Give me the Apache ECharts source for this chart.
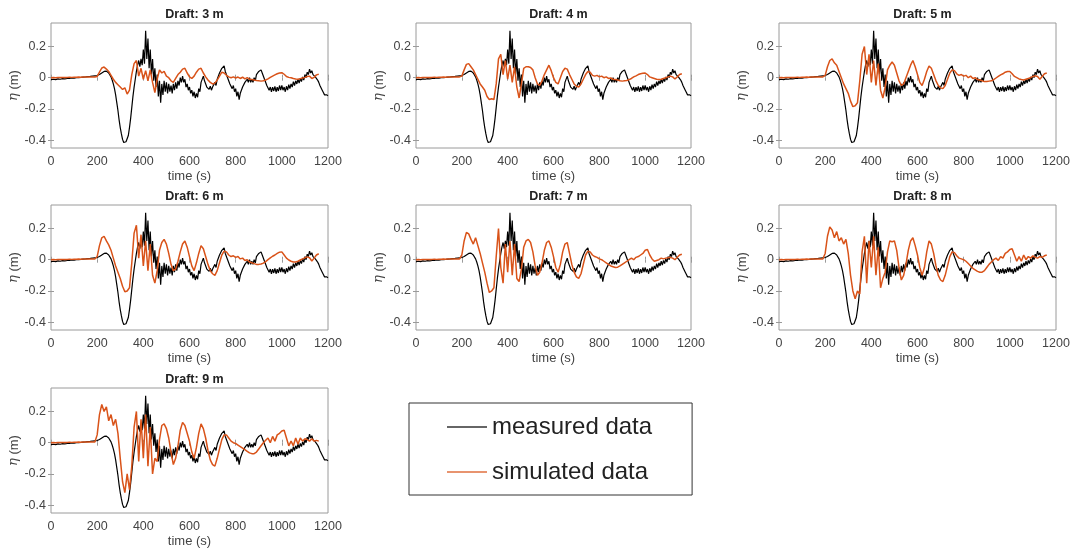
<!DOCTYPE html>
<html>
<head>
<meta charset="utf-8">
<title>Draft comparison</title>
<script src="https://cdn.jsdelivr.net/npm/echarts@6/dist/echarts.min.js"></script>
<style>
html, body { margin: 0; padding: 0; background: #fff; }
#chart { width: 1075px; height: 552px; }
</style>
</head>
<body>
<div id="chart"></div>
<script>
// panel titles
const drafts = ['Draft: 3 m', 'Draft: 4 m', 'Draft: 5 m', 'Draft: 6 m', 'Draft: 7 m', 'Draft: 8 m', 'Draft: 9 m'];

// x / y tick values
const xTicks = [0, 200, 400, 600, 800, 1000, 1200];
const yTicks = [-0.4, -0.2, 0, 0.2];

// measured surface elevation, sampled every 5 s from 0 to 1200 s (same in every panel)
const measuredStep = 5;
const measured = [
  -0.012,-0.018,-0.010,-0.020,-0.012,-0.017,-0.008,-0.016,-0.010,-0.019,
  -0.006,-0.014,-0.008,-0.016,-0.005,-0.013,-0.004,-0.012,-0.002,-0.010,
  -0.003,-0.009,0.000,-0.008,0.001,-0.006,0.002,-0.004,0.004,-0.003,
  0.005,-0.001,0.007,0.000,0.008,0.002,0.010,0.004,0.012,0.006,
  0.014,0.012,0.020,0.022,0.030,0.033,0.040,0.038,0.042,0.036,
  0.030,0.018,0.005,-0.015,-0.040,-0.070,-0.110,-0.160,-0.210,-0.270,
  -0.320,-0.360,-0.395,-0.415,-0.425,-0.410,-0.400,-0.370,-0.320,-0.260,
  -0.190,-0.120,-0.060,-0.010,0.040,0.080,0.110,0.070,0.120,0.080,
  0.180,0.090,0.300,0.120,0.250,0.060,0.180,0.020,0.120,-0.020,
  0.060,-0.060,0.020,-0.120,-0.020,-0.160,-0.040,-0.110,-0.020,-0.090,
  -0.030,-0.100,-0.040,-0.090,-0.050,-0.100,-0.040,-0.080,-0.030,-0.070,
  -0.020,-0.050,0.000,-0.030,0.010,-0.030,-0.010,-0.060,-0.040,-0.080,
  -0.060,-0.100,-0.080,-0.120,-0.090,-0.130,-0.100,-0.125,-0.070,-0.090,
  -0.030,-0.040,0.010,-0.020,-0.030,-0.060,-0.050,-0.075,-0.055,-0.080,
  -0.060,-0.070,-0.030,-0.050,-0.010,-0.020,0.030,0.020,0.060,0.050,
  0.075,0.040,0.030,0.000,-0.010,-0.040,-0.030,-0.070,-0.050,-0.090,
  -0.070,-0.120,-0.090,-0.140,-0.100,-0.110,-0.060,-0.070,-0.030,-0.040,
  -0.010,-0.030,0.000,-0.030,-0.010,-0.030,0.000,-0.020,0.020,0.010,
  0.040,0.030,0.050,0.030,0.020,-0.010,-0.010,-0.050,-0.040,-0.080,
  -0.060,-0.090,-0.060,-0.085,-0.055,-0.090,-0.060,-0.085,-0.050,-0.080,
  -0.050,-0.080,-0.060,-0.090,-0.055,-0.080,-0.045,-0.070,-0.040,-0.060,
  -0.025,-0.050,-0.020,-0.040,-0.010,-0.035,-0.005,-0.025,0.005,-0.015,
  0.020,0.000,0.035,0.020,0.055,0.030,0.045,0.020,0.030,0.005,
  0.010,-0.015,-0.030,-0.050,-0.060,-0.080,-0.095,-0.110,-0.120,-0.110,
  -0.115
];

// simulated data, sampled every 10 s from 0 to 1160 s
const simStep = 10;
const simLead = [0.000,0.001,0.000,0.001,0.002,0.001,0.002,0.002,0.003,0.002,
                 0.003,0.003,0.004,0.003,0.004,0.004,0.005,0.004,0.005,0.005];
const sim3 = simLead.concat([
  0.008,0.035,0.062,0.068,0.055,0.040,0.015,-0.010,-0.030,-0.045,
  -0.060,-0.075,-0.065,-0.105,-0.080,0.020,0.090,0.110,0.010,0.060,
  -0.010,0.045,-0.020,0.050,-0.030,-0.095,-0.010,0.050,0.030,0.040,
  0.010,0.000,-0.020,-0.030,-0.005,0.020,0.035,0.055,0.060,0.030,
  0.005,-0.005,0.010,0.035,0.055,0.060,0.030,0.005,-0.015,-0.030,
  -0.040,-0.035,-0.015,0.010,0.035,0.030,0.015,0.005,0.000,0.005,
  -0.002,0.004,-0.005,0.003,-0.008,0.000,-0.010,-0.012,-0.015,-0.018,
  -0.020,-0.022,-0.020,-0.015,-0.008,0.002,0.010,0.018,0.025,0.030,
  0.032,0.022,0.008,0.002,0.000,-0.005,-0.008,-0.010,-0.006,-0.002,
  0.002,0.008,0.010,-0.005,0.002,0.018,0.022
]);
const sim4 = simLead.concat([
  0.010,0.050,0.085,0.090,0.070,0.050,0.020,-0.010,-0.040,-0.060,
  -0.080,-0.120,-0.140,-0.135,-0.140,-0.040,0.120,0.150,0.020,0.110,
  -0.010,0.080,-0.030,0.070,-0.060,-0.130,-0.040,0.060,0.070,0.070,
  0.065,0.050,0.000,-0.040,-0.050,-0.020,0.020,0.050,0.080,0.045,
  0.000,-0.030,-0.040,0.000,0.040,0.060,0.055,0.020,-0.010,-0.040,
  -0.055,-0.060,-0.040,-0.010,0.020,0.040,0.035,0.015,0.010,0.015,
  0.005,0.010,0.000,0.005,-0.005,-0.002,-0.010,-0.012,-0.015,-0.020,
  -0.022,-0.020,-0.018,-0.012,-0.005,0.005,0.012,0.020,0.025,0.028,
  0.030,0.020,0.005,0.000,-0.005,-0.010,-0.012,-0.010,-0.005,0.000,
  0.005,0.010,0.005,-0.008,0.005,0.020,0.025
]);
const sim5 = simLead.concat([
  0.015,0.070,0.110,0.120,0.095,0.080,0.040,0.000,-0.040,-0.070,
  -0.100,-0.150,-0.185,-0.180,-0.160,-0.020,0.150,0.200,0.020,0.150,
  -0.030,0.110,-0.050,0.090,-0.080,-0.130,-0.060,0.050,0.080,0.100,
  0.080,0.030,-0.020,-0.050,-0.040,0.000,0.040,0.080,0.110,0.070,
  0.020,-0.030,-0.050,-0.010,0.040,0.075,0.060,0.020,-0.020,-0.050,
  -0.065,-0.070,-0.050,-0.010,0.030,0.050,0.045,0.025,0.015,0.020,
  0.010,0.015,0.000,0.010,-0.005,0.000,-0.012,-0.015,-0.020,-0.025,
  -0.025,-0.022,-0.020,-0.012,-0.002,0.008,0.018,0.025,0.035,0.040,
  0.040,0.025,0.008,0.000,-0.008,-0.012,-0.015,-0.010,-0.005,0.000,
  0.008,0.012,0.008,-0.010,0.008,0.025,0.030
]);
const sim6 = simLead.concat([
  0.020,0.090,0.140,0.150,0.120,0.095,0.060,0.010,-0.040,-0.080,
  -0.120,-0.170,-0.205,-0.200,-0.180,-0.020,0.170,0.220,0.010,0.160,
  -0.040,0.120,-0.070,0.100,-0.100,-0.150,-0.070,0.060,0.110,0.130,
  0.100,0.040,-0.030,-0.070,-0.060,-0.010,0.050,0.100,0.120,0.080,
  0.020,-0.040,-0.070,-0.020,0.040,0.090,0.070,0.020,-0.030,-0.070,
  -0.090,-0.100,-0.070,-0.020,0.030,0.055,0.050,0.030,0.020,0.025,
  0.015,0.020,0.005,0.010,-0.005,0.000,-0.015,-0.020,-0.025,-0.030,
  -0.030,-0.028,-0.022,-0.012,0.000,0.012,0.022,0.030,0.040,0.048,
  0.050,0.030,0.010,-0.002,-0.010,-0.015,-0.015,-0.010,-0.002,0.005,
  0.012,0.018,0.012,-0.008,0.010,0.030,0.038
]);
const sim7 = simLead.concat([
  0.030,0.120,0.175,0.165,0.130,0.100,0.140,0.090,0.040,-0.020,
  -0.080,-0.150,-0.210,-0.200,-0.180,0.020,0.200,-0.050,-0.150,0.100,
  -0.080,0.120,-0.100,0.100,-0.120,-0.140,-0.060,0.080,0.120,0.130,
  0.110,0.050,-0.040,-0.100,-0.080,-0.020,0.060,0.110,0.120,0.080,
  0.020,-0.050,-0.080,-0.030,0.050,0.100,0.110,0.040,-0.030,-0.080,
  -0.110,-0.120,-0.090,-0.030,0.030,0.055,0.050,0.030,0.020,0.015,
  0.005,0.000,-0.010,-0.020,-0.030,-0.040,-0.045,-0.050,-0.048,-0.040,
  -0.030,-0.020,-0.010,0.000,0.010,0.000,0.015,0.020,0.030,0.040,
  0.060,0.065,0.030,0.005,-0.010,-0.005,0.000,0.010,0.005,0.010,
  0.012,0.015,0.010,0.000,0.015,0.030,0.035
]);
const sim8 = simLead.concat([
  0.040,0.150,0.210,0.190,0.140,0.180,0.120,0.140,0.100,0.130,
  0.040,-0.100,-0.200,-0.250,-0.200,-0.220,0.050,0.150,-0.150,0.120,
  -0.050,0.150,-0.100,0.080,-0.180,-0.120,-0.080,0.050,0.120,0.115,
  0.120,0.060,-0.050,-0.130,-0.100,-0.030,0.060,0.120,0.140,0.090,
  0.030,-0.050,-0.100,-0.050,0.050,0.120,0.100,0.040,-0.040,-0.100,
  -0.130,-0.140,-0.100,-0.040,0.020,0.050,0.045,0.025,0.010,0.005,
  0.000,-0.010,-0.025,-0.040,-0.055,-0.065,-0.075,-0.080,-0.080,-0.070,
  -0.050,-0.030,-0.015,0.000,0.010,-0.005,0.020,0.010,0.040,0.050,
  0.065,0.070,0.030,-0.010,0.020,-0.010,0.030,0.000,0.020,0.010,
  0.025,0.015,0.010,0.020,0.015,0.025,0.030
]);
const sim9 = simLead.concat([
  0.050,0.180,0.245,0.200,0.230,0.140,0.180,0.110,0.150,0.060,
  -0.100,-0.250,-0.320,-0.200,-0.300,-0.150,0.100,0.200,-0.120,0.150,
  -0.100,0.180,-0.150,0.100,-0.200,-0.100,-0.120,0.020,0.110,0.120,
  0.090,0.030,-0.060,-0.140,-0.100,-0.020,0.080,0.130,0.110,0.060,
  0.010,-0.060,-0.100,-0.030,0.060,0.120,0.090,0.030,-0.050,-0.110,
  -0.140,-0.150,-0.100,-0.040,0.020,0.050,0.050,0.030,0.010,0.000,
  -0.005,-0.015,-0.025,-0.035,-0.045,-0.055,-0.065,-0.070,-0.070,-0.060,
  -0.040,-0.020,0.000,0.015,0.030,0.000,0.040,0.010,0.050,0.060,
  0.075,0.080,0.030,-0.020,0.010,-0.020,0.030,-0.010,0.030,0.010,
  0.025,0.020,0.010,0.025,0.010,0.015,0.010
]);
const simulated = [sim3, sim4, sim5, sim6, sim7, sim8, sim9];

// panel boxes in pixels
const boxes = [
  { left: 51, top: 23, width: 277, height: 125 },
  { left: 416, top: 23, width: 275, height: 125 },
  { left: 779, top: 23, width: 277, height: 125 },
  { left: 51, top: 205, width: 277, height: 125 },
  { left: 416, top: 205, width: 275, height: 125 },
  { left: 779, top: 205, width: 277, height: 125 },
  { left: 51, top: 388, width: 277, height: 125 }
];

const FONT = 'Liberation Sans, Arial, Helvetica, sans-serif';
const boxColor = '#9a9a9a';
const labelColor = '#444';

var myChart = echarts.init(document.getElementById('chart'), null, { renderer: 'canvas' });

const grid = [], xAxis = [], yAxis = [], series = [], title = [];
const measuredPts = measured.map((v, i) => [i * measuredStep, v]);

boxes.forEach((b, i) => {
  grid.push({ left: b.left, top: b.top, width: b.width, height: b.height,
    show: true, borderColor: boxColor, borderWidth: 1, backgroundColor: '#fff', containLabel: false });
  title.push({
    text: drafts[i], left: b.left + b.width / 2, top: b.top - 20, textAlign: 'center',
    textStyle: { fontFamily: FONT, fontSize: 12.5, fontWeight: 'bold', color: '#222' }
  });
  const tick = { show: true, inside: true, length: 3, lineStyle: { color: boxColor } };
  // bottom x axis
  xAxis.push({
    type: 'value', gridIndex: i, min: 0, max: 1200, interval: 200, position: 'bottom',
    axisLine: { show: false }, splitLine: { show: false }, axisTick: tick,
    axisLabel: { margin: 7, fontFamily: FONT, fontSize: 12.5, color: labelColor,
      formatter: v => String(v) },
    name: 'time (s)', nameLocation: 'middle', nameGap: 22,
    nameTextStyle: { fontFamily: FONT, fontSize: 13, color: labelColor }
  });
  // left y axis
  yAxis.push({
    type: 'value', gridIndex: i, min: -0.45, max: 0.35, position: 'left',
    axisLine: { show: false }, splitLine: { show: false },
    axisTick: Object.assign({ customValues: yTicks }, tick),
    axisLabel: { customValues: yTicks, margin: 5, fontFamily: FONT, fontSize: 12.5, color: labelColor,
      formatter: v => (Math.abs(v) < 1e-9 ? '0' : v.toFixed(1)) },
    name: '{i|η} (m)', nameLocation: 'middle', nameGap: 29,
    nameTextStyle: { fontFamily: FONT, fontSize: 13, color: labelColor,
      rich: { i: { fontFamily: 'DejaVu Serif', fontStyle: 'italic', fontSize: 13, color: labelColor } } }
  });
  series.push({
    name: 'measured data', type: 'line', xAxisIndex: i, yAxisIndex: i,
    data: measuredPts, symbol: 'none', color: '#000',
    lineStyle: { color: '#000', width: 1.2 }, z: 2
  });
  series.push({
    name: 'simulated data', type: 'line', xAxisIndex: i, yAxisIndex: i,
    data: simulated[i].map((v, k) => [k * simStep, v]), symbol: 'none', color: '#D95319',
    lineStyle: { color: '#D95319', width: 1.5 }, z: 3
  });
});

// mirrored ticks on top and right edges of every box
boxes.forEach((b, i) => {
  const tick = { show: true, inside: true, length: 3, lineStyle: { color: boxColor } };
  xAxis.push({
    type: 'value', gridIndex: i, min: 0, max: 1200, interval: 200, position: 'top',
    axisLine: { show: false }, splitLine: { show: false }, axisTick: tick, axisLabel: { show: false }
  });
  yAxis.push({
    type: 'value', gridIndex: i, min: -0.45, max: 0.35, position: 'right',
    axisLine: { show: false }, splitLine: { show: false },
    axisTick: Object.assign({ customValues: yTicks }, tick),
    axisLabel: { show: false, customValues: yTicks }
  });
});

var option = {
  animation: false,
  backgroundColor: '#fff',
  title: title,
  grid: grid,
  xAxis: xAxis,
  yAxis: yAxis,
  legend: {
    data: [
      { name: 'measured data', icon: 'rect', itemStyle: { color: '#333' } },
      { name: 'simulated data', icon: 'rect', itemStyle: { color: '#E0703F' } }
    ],
    orient: 'vertical', left: 409, top: 403,
    itemWidth: 40, itemHeight: 1.5, itemGap: 21,
    padding: [12, 40, 11, 38],
    borderColor: '#333', borderWidth: 1, backgroundColor: '#fff',
    textStyle: { fontFamily: FONT, fontSize: 24, color: '#222', lineHeight: 24 },
    selectedMode: false
  },
  series: series
};
myChart.setOption(option);
window.addEventListener('resize', () => {
  myChart.resize();
});
</script>
</body>
</html>
